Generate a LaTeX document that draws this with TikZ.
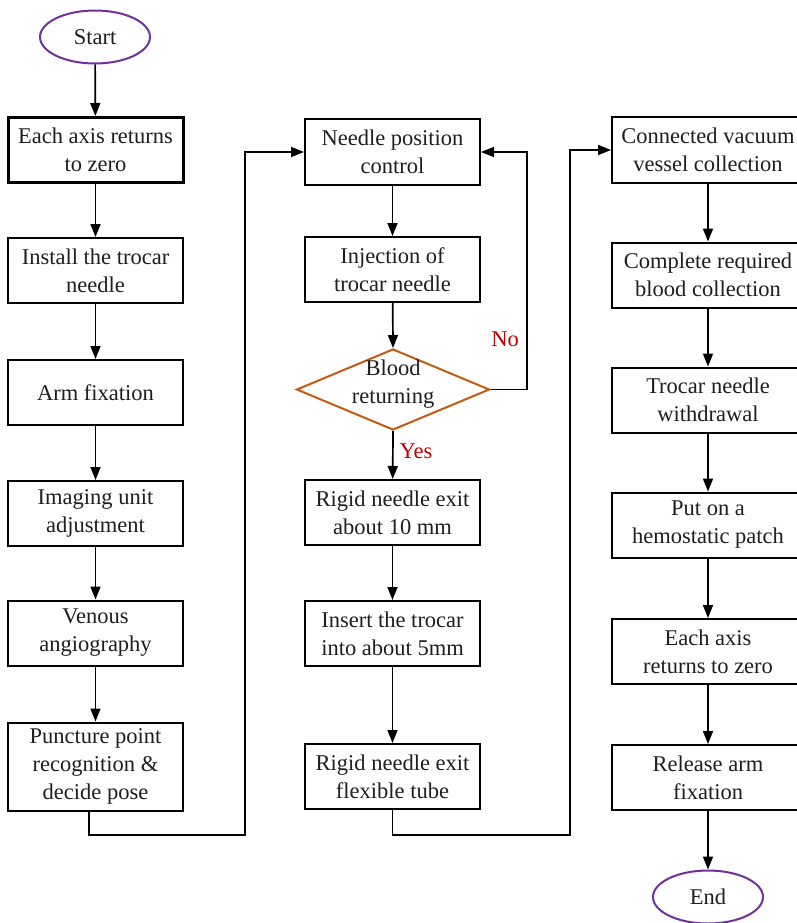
\documentclass[tikz,border=0pt]{standalone}
\usepackage{fontspec}
\setmainfont{Liberation Serif}
\usetikzlibrary{shapes.geometric,arrows.meta}
\definecolor{startpurple}{RGB}{112,48,160}
\definecolor{diabrown}{RGB}{197,90,17}
\definecolor{labred}{RGB}{192,0,0}
\definecolor{txt}{RGB}{30,30,30}
\begin{document}
\begin{tikzpicture}[x=1pt,y=-1pt,
  box/.style={draw,line width=2pt,minimum width=175pt,minimum height=65pt,align=center,inner sep=1pt,
    text=txt,font=\fontsize{22.5}{28}\selectfont},
  rbox/.style={box,minimum width=192pt},
  term/.style={ellipse,draw=startpurple,line width=2pt,minimum width=110pt,minimum height=53pt,inner sep=0pt,
    text=txt,font=\fontsize{22.5}{28}\selectfont},
  dia/.style={diamond,draw=diabrown,line width=2pt,minimum width=193pt,minimum height=81pt,inner sep=0pt},
  arr/.style={line width=1.7pt,-{Triangle[length=13pt,width=10pt]}},
  lab/.style={text=labred,font=\fontsize{22.5}{26}\selectfont}]
\useasboundingbox (0,0) rectangle (796,923);
% left column
\node[term] (start) at (95,37) {Start};
\node[box,line width=3pt] (l1) at (95.5,150) {Each axis returns\\to zero};
\node[box] (l2) at (95.5,270.5) {Install the trocar\\needle};
\node[box] (l3) at (95.5,392.5) {Arm fixation};
\node[box] (l4) at (95.5,513.5) {Imaging unit\\adjustment};
\node[box] (l5) at (95.5,633) {Venous\\angiography};
\node[box,minimum height=88pt] (l6) at (95.5,766.5) {Puncture point\\recognition \&\\decide pose};
% middle column
\node[box] (m1) at (392.5,152) {Needle position\\control};
\node[box] (m2) at (392.5,269.5) {Injection of\\trocar needle};
\node[dia] (d) at (393,389.5) {};
\node[font=\fontsize{22.5}{28}\selectfont,text=txt,align=center] (dt) at (393,384) {Blood\\returning};
\node[box] (m3) at (392.5,512.5) {Rigid needle exit\\about 10 mm};
\node[box] (m4) at (392.5,633.5) {Insert the trocar\\into about 5mm};
\node[box] (m5) at (392.5,776.5) {Rigid needle exit\\flexible tube};
% right column
\node[rbox] (r1) at (708,150) {Connected vacuum\\vessel collection};
\node[rbox] (r2) at (708,275) {Complete required\\blood collection};
\node[rbox] (r3) at (708,400) {Trocar needle\\withdrawal};
\node[rbox] (r4) at (708,525) {Put on a\\hemostatic patch};
\node[rbox] (r5) at (708,651.5) {Each axis\\returns to zero};
\node[rbox] (r6) at (708,777.5) {Release arm\\fixation};
\node[term] (end) at (708,897) {End};
% labels
\node[lab] (no) at (505,339) {No};
\node[lab] (yes) at (416,451) {Yes};
% connectors
\coordinate (lb) at (89,835);
\coordinate (lr) at (245,835);
\coordinate (mb) at (392.5,835);
\coordinate (mr) at (570,835);
\coordinate (nr) at (527,389.5);
\draw[arr] (start) -- (l1);
\draw[arr] (l1) -- (l2);
\draw[arr] (l2) -- (l3);
\draw[arr] (l3) -- (l4);
\draw[arr] (l4) -- (l5);
\draw[arr] (l5) -- (l6);
\draw[arr] (l6.south -| lb) -- (lb) -- (lr) |- (m1.west);
\draw[arr] (m1) -- (m2);
\draw[arr] (m2) -- (d.north);
\draw[arr] (d.south) -- (m3);
\draw[arr] (d.east) -- (nr) |- (m1.east);
\draw[arr] (m3) -- (m4);
\draw[arr] (m4) -- (m5);
\draw[arr] (m5.south) -- (mb) -- (mr) |- (r1.west);
\draw[arr] (r1) -- (r2);
\draw[arr] (r2) -- (r3);
\draw[arr] (r3) -- (r4);
\draw[arr] (r4) -- (r5);
\draw[arr] (r5) -- (r6);
\draw[arr] (r6) -- (end);
\end{tikzpicture}
\end{document}
